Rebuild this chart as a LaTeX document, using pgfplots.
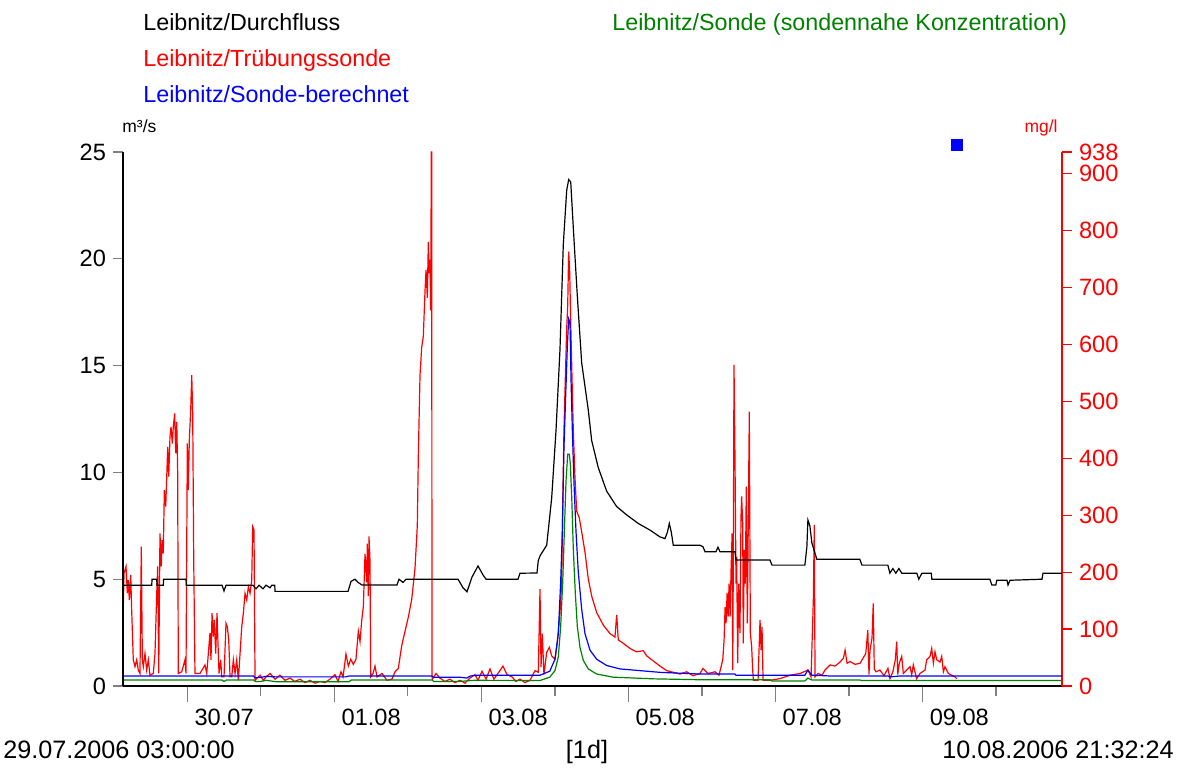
\documentclass[border=0pt]{standalone}
\usepackage{fontspec}
\setmainfont{Liberation Sans}
\usepackage{pgfplots}
\pgfplotsset{compat=1.18}
\usepackage{pgfplotstable}

\definecolor{sondered}{RGB}{255,0,0}
\definecolor{sondeblue}{RGB}{0,0,255}
\definecolor{sondegreen}{RGB}{0,128,0}

% time in days since 29.07.2006 00:00
% Durchfluss in m^3/s
\pgfplotstableread{
day q
0.125 4.72
0.516 4.72
0.520 5.00
0.584 5.00
0.588 4.72
0.673 4.72
0.677 5.00
0.982 5.00
0.986 4.72
1.472 4.72
1.499 4.45
1.526 4.72
1.893 4.72
1.934 4.55
1.975 4.72
2.029 4.55
2.070 4.72
2.125 4.60
2.150 4.72
2.189 4.72
2.193 4.43
3.186 4.43
3.227 4.90
3.281 5.00
3.322 4.85
3.376 4.73
3.852 4.73
3.879 5.00
3.934 4.85
3.975 5.00
4.682 5.00
4.750 4.60
4.804 4.41
4.872 5.10
4.954 5.62
5.022 5.20
5.063 5.00
5.498 5.00
5.525 5.28
5.756 5.29
5.774 5.88
5.800 6.11
5.888 6.59
5.956 8.80
6.015 11.97
6.069 15.76
6.114 20.67
6.160 23.20
6.187 23.71
6.215 23.60
6.250 21.46
6.304 18.30
6.364 15.13
6.454 12.92
6.500 11.49
6.590 10.22
6.704 9.12
6.840 8.40
6.976 8.01
7.134 7.61
7.293 7.30
7.429 6.98
7.497 6.90
7.530 7.20
7.556 7.61
7.583 7.20
7.610 6.59
7.973 6.59
8.014 6.52
8.041 6.29
8.190 6.29
8.218 6.50
8.245 6.29
8.449 6.29
8.463 5.90
8.925 5.90
8.953 5.66
9.400 5.66
9.427 6.50
9.441 7.77
9.468 7.50
9.495 6.70
9.563 5.93
10.148 5.93
10.176 5.66
10.529 5.66
10.556 5.28
10.597 5.50
10.637 5.28
10.678 5.50
10.719 5.28
10.923 5.28
10.950 5.00
10.991 5.28
11.120 5.28
11.127 5.00
11.916 5.00
11.943 4.73
11.997 4.73
12.011 4.95
12.149 4.95
12.163 4.73
12.190 4.95
12.625 5.00
12.639 5.28
12.897 5.28
}\durchfluss

% Truebungssonde in mg/l
\pgfplotstableread{
day c
0.125 174
0.129 139
0.139 198
0.166 210
0.184 163
0.197 186
0.211 151
0.230 195
0.243 133
0.265 46
0.288 34
0.311 46
0.333 28
0.356 22
0.374 245
0.388 46
0.401 34
0.424 57
0.447 28
0.469 46
0.492 19
0.537 22
0.560 57
0.584 163
0.597 210
0.611 22
0.628 268
0.646 210
0.656 256
0.673 233
0.687 344
0.706 315
0.720 368
0.733 420
0.747 368
0.764 438
0.778 455
0.796 426
0.809 455
0.828 479
0.842 409
0.856 464
0.869 373
0.877 22
0.924 25
0.968 46
0.982 22
1.000 426
1.013 344
1.027 432
1.046 485
1.060 546
1.073 479
1.087 221
1.104 22
1.172 22
1.240 37
1.264 22
1.308 93
1.322 46
1.336 128
1.353 87
1.367 116
1.386 57
1.404 128
1.417 75
1.431 22
1.454 46
1.468 16
1.499 16
1.526 110
1.544 104
1.563 81
1.581 16
1.604 16
1.626 46
1.649 22
1.672 46
1.694 10
1.740 104
1.762 128
1.785 163
1.808 151
1.830 174
1.853 163
1.876 186
1.889 280
1.907 274
1.921 10
1.944 13
1.989 19
2.034 10
2.070 16
2.125 22
2.193 12
2.260 19
2.330 10
2.397 14
2.460 8
2.533 12
2.600 6
2.668 10
2.736 5
2.805 8
2.872 6
2.940 12
3.008 20
3.050 8
3.090 25
3.118 16
3.158 56
3.190 35
3.222 47
3.258 38
3.294 47
3.326 96
3.349 78
3.372 115
3.394 139
3.417 232
3.440 182
3.448 250
3.462 158
3.471 263
3.485 219
3.494 16
3.526 22
3.553 35
3.580 16
3.648 22
3.716 10
3.784 12
3.825 25
3.870 31
3.916 71
3.961 96
4.006 121
4.052 152
4.097 207
4.128 281
4.142 404
4.165 546
4.188 595
4.210 614
4.233 694
4.247 731
4.264 682
4.278 780
4.291 725
4.301 749
4.310 660
4.319 938
4.324 938
4.328 16
4.334 12
4.383 22
4.435 14
4.504 8
4.572 12
4.640 6
4.709 10
4.777 5
4.845 14
4.913 20
4.954 10
5.008 26
5.063 12
5.117 30
5.170 12
5.225 22
5.293 35
5.348 20
5.416 16
5.470 8
5.525 12
5.593 6
5.661 10
5.729 27
5.774 24
5.797 170
5.811 33
5.828 92
5.851 20
5.888 59
5.924 68
5.956 53
6.001 47
6.033 77
6.069 129
6.092 183
6.106 318
6.123 449
6.141 538
6.160 627
6.174 669
6.187 763
6.201 727
6.215 638
6.232 544
6.250 449
6.273 366
6.296 307
6.332 295
6.364 271
6.409 235
6.454 188
6.500 158
6.568 129
6.658 107
6.749 92
6.817 86
6.840 125
6.862 81
6.930 75
7.021 66
7.112 60
7.202 62
7.248 53
7.338 44
7.429 35
7.520 27
7.610 24
7.701 21
7.792 25
7.878 18
7.973 22
8.014 31
8.082 22
8.177 25
8.232 19
8.283 46
8.301 81
8.315 139
8.328 110
8.342 163
8.356 122
8.369 180
8.383 122
8.396 204
8.410 268
8.419 28
8.426 210
8.436 564
8.450 391
8.463 180
8.472 227
8.486 40
8.500 180
8.517 93
8.531 297
8.540 333
8.554 286
8.562 75
8.576 239
8.590 180
8.603 350
8.617 110
8.630 286
8.644 482
8.658 93
8.676 69
8.690 28
8.699 10
8.763 10
8.790 116
8.804 63
8.817 104
8.831 10
8.926 10
9.062 13
9.198 19
9.334 22
9.443 28
9.484 16
9.515 151
9.528 283
9.538 16
9.579 22
9.633 19
9.674 28
9.742 37
9.810 35
9.878 42
9.924 49
9.947 63
9.974 40
10.015 43
10.083 38
10.151 40
10.228 57
10.256 98
10.272 20
10.286 63
10.313 84
10.330 145
10.344 30
10.367 25
10.421 28
10.476 18
10.530 31
10.557 13
10.597 25
10.630 46
10.649 78
10.663 20
10.684 40
10.717 52
10.739 22
10.785 28
10.830 34
10.853 20
10.875 37
10.920 13
10.966 22
11.034 28
11.057 46
11.102 52
11.125 66
11.148 40
11.170 60
11.193 46
11.238 42
11.261 52
11.284 25
11.306 34
11.351 22
11.397 19
11.442 16
11.465 13
}\truebung

% Sonde-berechnet in mg/l
\pgfplotstableread{
day c
0.125 17.6
1.900 17.6
1.920 14.5
2.000 15.0
2.070 17.0
2.200 16.0
3.150 16.0
3.200 17.6
4.330 17.6
4.350 15.5
4.700 15.5
4.800 14.0
4.850 17.6
4.950 19.0
5.797 19.0
5.930 26
6.001 47
6.046 92
6.078 182
6.101 271
6.123 419
6.146 508
6.169 597
6.187 645
6.205 639
6.219 538
6.237 449
6.260 354
6.287 271
6.318 200
6.364 135
6.409 92
6.477 63
6.568 47
6.704 36
6.885 30
7.157 27
7.429 24
7.973 21
8.449 21
8.463 19
9.400 19
9.441 28
9.495 19
9.742 17.6
10.530 17.6
10.557 16
10.690 17.6
12.897 17.6
}\berechnet

% sondennahe Konzentration in mg/l
\pgfplotstableread{
day c
0.125 10.5
1.470 10.5
1.500 8.0
1.530 10.5
1.900 10.5
1.930 8.0
2.000 8.0
2.070 10.0
2.200 7.6
3.200 7.6
3.230 10.5
4.330 10.5
4.350 8.0
4.700 8.0
4.900 10.0
5.797 9.7
5.930 15.5
6.001 27
6.046 51
6.078 104
6.106 182
6.128 271
6.151 360
6.174 407
6.196 407
6.210 389
6.229 330
6.250 241
6.277 164
6.305 104
6.341 68
6.386 45
6.454 30
6.568 21
6.794 15.5
7.338 12.6
7.973 11
8.926 11
8.953 8.8
9.400 8.8
9.441 14
9.495 10.5
10.151 10.5
10.176 9.5
12.897 9.5
}\sondennah

\pgfplotsset{
  frame/.style={
    at={(61.5pt,40.5pt)}, anchor=south west,
    scale only axis, width=469.5pt, height=267pt,
    xmin=0.125, xmax=12.8975,
    axis line style={-, line width=0.6pt},
    tick align=outside,
    tick style={line width=0.6pt},
    /pgf/number format/assume math mode=true,
    ticklabel style={font=\fontsize{11.8}{13}\selectfont},
  },
}

\begin{document}
\begin{tikzpicture}[x=0.5pt,y=0.5pt]
\useasboundingbox (0,0) rectangle (1182,767);

% time axis
\begin{axis}[frame, ymin=0, ymax=25, hide y axis, axis x line*=bottom,
  xtick={1,3,5,7,9,11}, minor xtick={2,4,6,8,10,12},
  xticklabels={30.07,01.08,03.08,05.08,07.08,09.08},
  major tick length=8pt, minor tick length=5pt,
  xticklabel style={xshift=18.4pt}]
\end{axis}

% concentrations, right axis
\begin{axis}[frame, ymin=0, ymax=938, hide x axis, axis y line*=right,
  ytick={0,100,200,300,400,500,600,700,800,900,938},
  major tick length=5pt,
  y axis line style={sondered}, ytick style={sondered},
  yticklabel style={text=sondered}]
\addplot[sondered, line width=0.6pt] table[x=day, y=c] {\truebung};
\addplot[sondeblue, line width=0.6pt] table[x=day, y=c] {\berechnet};
\addplot[sondegreen, line width=0.6pt] table[x=day, y=c] {\sondennah};
\end{axis}

% discharge, left axis
\begin{axis}[frame, ymin=0, ymax=25, hide x axis, axis y line*=left,
  ytick={0,5,10,15,20,25}, major tick length=5pt, clip=false]
\addplot[black, line width=0.6pt] table[x=day, y=q] {\durchfluss};
\addplot[only marks, mark=square*, mark size=2.6pt, sondeblue] coordinates {(11.469,25.33)};
\end{axis}

% series names
\begin{scope}[every node/.style={inner sep=0pt, anchor=base west, font=\fontsize{11.65}{14}\selectfont}]
\node at (143,736) {Leibnitz/Durchfluss};
\node[text=sondered] at (143,700) {Leibnitz/Trübungssonde};
\node[text=sondeblue] at (143,664) {Leibnitz/Sonde-berechnet};
\node[text=sondegreen] at (612,736) {Leibnitz/Sonde (sondennahe Konzentration)};
\end{scope}

% units
\node[inner sep=0pt, anchor=base west, font=\fontsize{8.75}{10}\selectfont] at (122,634) {m³/s};
\node[inner sep=0pt, anchor=base east, font=\fontsize{8.75}{10}\selectfont, text=sondered] at (1058,634) {mg/l};

% time range
\begin{scope}[every node/.style={inner sep=0pt, font=\fontsize{12.6}{14}\selectfont}]
\node[anchor=base west] at (3,9) {29.07.2006 03:00:00};
\node[anchor=base] at (587,9) {[1d]};
\node[anchor=base east] at (1174,9) {10.08.2006 21:32:24};
\end{scope}
\end{tikzpicture}
\end{document}
